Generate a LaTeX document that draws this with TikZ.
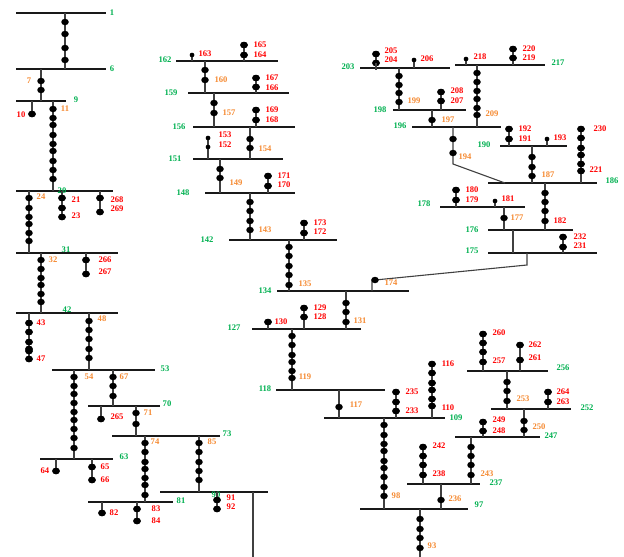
\documentclass[tikz,border=0pt]{standalone}
\usepackage{fontspec}
\setmainfont{Liberation Serif}
\definecolor{busgreen}{HTML}{00B050}
\definecolor{midorange}{HTML}{F58A32}
\definecolor{endred}{HTML}{FF0000}
\usetikzlibrary{shapes.geometric}
\tikzset{
  busbar/.style={draw=none,fill=black!90,rectangle,inner sep=0pt,minimum height=1.4pt},
  feeder/.style={draw=black!75,line width=1.1pt},
  dotnode/.style={fill=black,ellipse,inner sep=0pt,minimum width=7.5pt,minimum height=6.5pt},
  tinydot/.style={fill=black,ellipse,inner sep=0pt,minimum width=4.5pt,minimum height=4.5pt},
  tag/.style={font=\fontsize{8.6}{9}\selectfont\bfseries,inner sep=0pt},
}
% bus: number, x1, x2, y, label x, label y
\newcommand{\busb}[6]{%
  \node[busbar,minimum width={(#3-#2)*1pt}] (b#1) at ({(#2+#3)/2},#4) {};
  \node[tag,text=busgreen] (l#1) at (#5,#6) {#1};}
% text label
\newcommand{\gtag}[4]{\node[tag,text=#1] (l#4) at (#2,#3) {#4};}
\newcommand{\rt}[3]{\gtag{endred}{#1}{#2}{#3}}
\newcommand{\ot}[3]{\gtag{midorange}{#1}{#2}{#3}}
% dots on a vertical at x
\newcommand{\putdots}[3][dotnode]{\foreach \yy in {#3} {\node[#1] (d#2-\yy) at (#2,\yy) {};}}
% link between two buses at x, with dots
\newcommand{\blink}[4]{\draw[feeder] (#2,0 |- b#1) -- (#2,0 |- b#3); \putdots{#2}{#4}}
% stub from a bus at x through all its dots
\newcommand{\bstub}[4][dotnode]{%
  \foreach \yy [count=\ii] in {#4} {\node[#1] (d#3-\yy) at (#3,\yy) {}; \ifnum\ii=1 \xdef\firstyy{\yy}\fi}
  \draw[feeder] (#3,0 |- b#2) -- (d#3-\firstyy.center);
  \putdots[#1]{#3}{#4}}
\begin{document}
\begin{tikzpicture}[x=1pt,y=-1pt]
\useasboundingbox (0,0) rectangle (624,557);
\busb{1}{16}{106}{13}{112}{13}
\busb{6}{16}{106}{69}{112}{69}
\busb{9}{16}{66}{101}{76}{100}
\busb{20}{16}{113}{191}{62}{191}
\busb{31}{16}{118}{253}{66}{250}
\busb{42}{16}{118}{313}{67}{310}
\busb{53}{52}{155}{370}{165}{369}
\busb{63}{40}{113}{459}{124}{457}
\busb{70}{88}{160}{406}{167}{404}
\busb{73}{112}{220}{436}{227}{434}
\busb{81}{88}{173}{502}{181}{501}
\busb{90}{160}{268}{492}{216}{495}
\busb{162}{176}{278}{61}{165}{60}
\busb{159}{188}{289}{93}{171}{93}
\busb{156}{193}{295}{127}{179}{127}
\busb{151}{193}{283}{159}{175}{159}
\busb{148}{205}{295}{193}{183}{193}
\busb{142}{229}{337}{240}{207}{240}
\busb{134}{277}{409}{291}{265}{291}
\busb{127}{252}{361}{329}{234}{328}
\busb{118}{276}{385}{390}{265}{389}
\busb{109}{324}{445}{418}{456}{418}
\busb{97}{360}{468}{509}{479}{505}
\busb{237}{407}{480}{484}{496}{483}
\busb{247}{455}{540}{437}{551}{436}
\busb{252}{491}{571}{409}{587}{408}
\busb{256}{467}{548}{371}{563}{368}
\busb{203}{360}{450}{68}{348}{67}
\busb{198}{393}{466}{110}{380}{110}
\busb{196}{412}{501}{127}{400}{126}
\busb{217}{455}{545}{65}{558}{63}
\busb{190}{500}{567}{146}{484}{145}
\busb{186}{488}{597}{183}{612}{181}
\busb{178}{440}{525}{207}{424}{204}
\busb{176}{488}{573}{230}{472}{230}
\busb{175}{488}{597}{253}{472}{251}
% left column
\blink{1}{65}{6}{22,34,48,60}
\blink{6}{41}{9}{81,90} \ot{29}{81}{7}
\bstub{9}{32}{114} \rt{21}{115}{10}
\blink{9}{53}{20}{109,118,125,135,144,151,161,170,179} \ot{65}{109}{11}
\blink{20}{29}{31}{198,208,217,224,233,241} \ot{41}{197}{24}
\bstub{20}{62}{217,208,198} \rt{76}{200}{21} \rt{76}{216}{23}
\bstub{20}{100}{212,198} \rt{117}{200}{268} \rt{117}{209}{269}
\blink{31}{41}{42}{260,269,278,285,294,302} \ot{53}{260}{32}
\bstub{31}{86}{274,260} \rt{105}{260}{266} \rt{105}{272}{267}
\bstub{42}{29}{359,351,349,342,332,323} \rt{41}{323}{43} \rt{41}{359}{47}
\blink{42}{89}{53}{321,330,339,349,358} \ot{102}{319}{48}
\blink{53}{74}{63}{377,386,394,403,412,420,429,438,448} \ot{89}{377}{54}
\blink{53}{113}{70}{377,386,396} \ot{124}{377}{67}
\bstub{70}{101}{419} \rt{117}{417}{265}
\blink{70}{136}{73}{413,424} \ot{148}{413}{71}
\blink{73}{145}{81}{443,452,462,469,478,485,495} \ot{155}{442}{74}
\blink{73}{199}{90}{443,452,462,471,480} \ot{212}{442}{85}
\bstub{63}{56}{471} \rt{45}{471}{64}
\bstub{63}{92}{480,467} \rt{105}{467}{65} \rt{105}{480}{66}
\bstub{81}{102}{513} \rt{114}{513}{82}
\bstub{81}{137}{521,509} \rt{156}{509}{83} \rt{156}{521}{84}
\bstub{90}{217}{509,500} \rt{231}{498}{91} \rt{231}{507}{92}
\coordinate (off90) at (253,557);
\draw[feeder] (253,0 |- b90) -- (off90);
% middle column
\bstub[tinydot]{162}{192}{55} \rt{205}{54}{163}
\bstub{162}{244}{45,55} \rt{260}{45}{165} \rt{260}{55}{164}
\blink{162}{205}{159}{70,80} \ot{221}{80}{160}
\bstub{159}{256}{78,87} \rt{272}{78}{167} \rt{272}{88}{166}
\blink{159}{214}{156}{103,113} \ot{229}{113}{157}
\bstub{156}{256}{110,120} \rt{272}{110}{169} \rt{272}{120}{168}
\blink{156}{250}{151}{139,148} \ot{265}{149}{154}
\bstub[tinydot]{151}{208}{138,147} \rt{225}{135}{153} \rt{225}{145}{152}
\blink{151}{220}{148}{169,178} \ot{236}{183}{149}
\bstub{148}{268}{176,186} \rt{284}{176}{171} \rt{284}{185}{170}
\blink{148}{250}{142}{202,211,221,230} \ot{265}{230}{143}
\bstub{142}{304}{223,233} \rt{320}{223}{173} \rt{320}{232}{172}
\blink{142}{289}{134}{247,256,266,275,285} \ot{305}{284}{135}
% 174 tie
\coordinate (c174) at (527,265);
\draw[feeder] (372,0 |- b134) -- (372,280) -- (375,280) -- (c174) -- (c174 |- b175);
\node[dotnode] (d174) at (375,280) {}; \ot{391}{283}{174}
\blink{134}{346}{127}{303,312,322} \ot{360}{321}{131}
\bstub{127}{268}{322} \rt{281}{322}{130}
\bstub{127}{304}{308,317} \rt{320}{308}{129} \rt{320}{317}{128}
\blink{127}{292}{118}{336,345,355,362,371,378} \ot{305}{377}{119}
\blink{118}{339}{109}{407} \ot{356}{405}{117}
\bstub{109}{396}{392,402,411} \rt{412}{392}{235} \rt{412}{411}{233}
\bstub{109}{432}{364,373,383,390,399,406} \rt{448}{364}{116} \rt{448}{408}{110}
\blink{109}{384}{97}{425,435,444,451,461,468,477,487,496} \ot{396}{496}{98}
\blink{97}{441}{237}{500} \ot{455}{499}{236}
\bstub{237}{423}{447,456,465,475} \rt{439}{446}{242} \rt{439}{474}{238}
\blink{237}{471}{247}{447,456,465,475} \ot{487}{474}{243}
\bstub{247}{483}{422,431} \rt{499}{420}{249} \rt{499}{431}{248}
\blink{247}{524}{252}{421,430} \ot{539}{427}{250}
\bstub{252}{548}{392,402} \rt{563}{392}{264} \rt{563}{402}{263}
\blink{252}{507}{256}{382,391,401} \ot{523}{399}{253}
\bstub{256}{483}{334,343,352,362} \rt{499}{333}{260} \rt{499}{361}{257}
\bstub{256}{520}{345,360} \rt{535}{345}{262} \rt{535}{358}{261}
\coordinate (off97) at (420,557);
\draw[feeder] (420,0 |- b97) -- (off97);
\putdots{420}{519,529,538,548} \ot{432}{546}{93}
% right column
\coordinate (t203) at (376,70);
\bstub{203}{376}{54,63} \draw[feeder] (d376-63.center) -- (t203); \rt{391}{51}{205} \rt{391}{60}{204}
\bstub[tinydot]{203}{414}{60} \rt{427}{59}{206}
\blink{203}{399}{198}{76,85,93,102} \ot{414}{101}{199}
\bstub{198}{441}{92,101} \rt{457}{91}{208} \rt{457}{101}{207}
\blink{198}{432}{196}{120} \ot{448}{120}{197}
\blink{196}{477}{217}{73,82,91,99,108,115} \ot{492}{114}{209}
\bstub[tinydot]{217}{466}{59} \rt{480}{57}{218}
\bstub{217}{513}{49,58} \rt{529}{49}{220} \rt{529}{58}{219}
\coordinate (c194) at (453,164);
\draw[feeder] (453,0 |- b196) -- (c194) -- (505,0 |- b186);
\putdots{453}{139,153} \ot{465}{157}{194}
\bstub{190}{509}{129,139} \rt{525}{129}{192} \rt{525}{139}{191}
\bstub[tinydot]{190}{547}{139} \rt{560}{138}{193}
\blink{190}{532}{186}{157,167,176} \ot{548}{175}{187}
\bstub{186}{581}{129,138,148,155,164,171} \rt{600}{129}{230} \rt{596}{170}{221}
\blink{186}{545}{176}{193,202,211,221} \rt{560}{221}{182}
\blink{176}{504}{178}{218} \ot{517}{218}{177}
\bstub{178}{456}{190,200} \rt{472}{190}{180} \rt{472}{200}{179}
\bstub[tinydot]{178}{495}{201} \rt{508}{199}{181}
\draw[feeder] (513,0 |- b176) -- (513,0 |- b175);
\bstub{175}{563}{237,247} \rt{580}{237}{232} \rt{580}{246}{231}
\end{tikzpicture}
\end{document}
